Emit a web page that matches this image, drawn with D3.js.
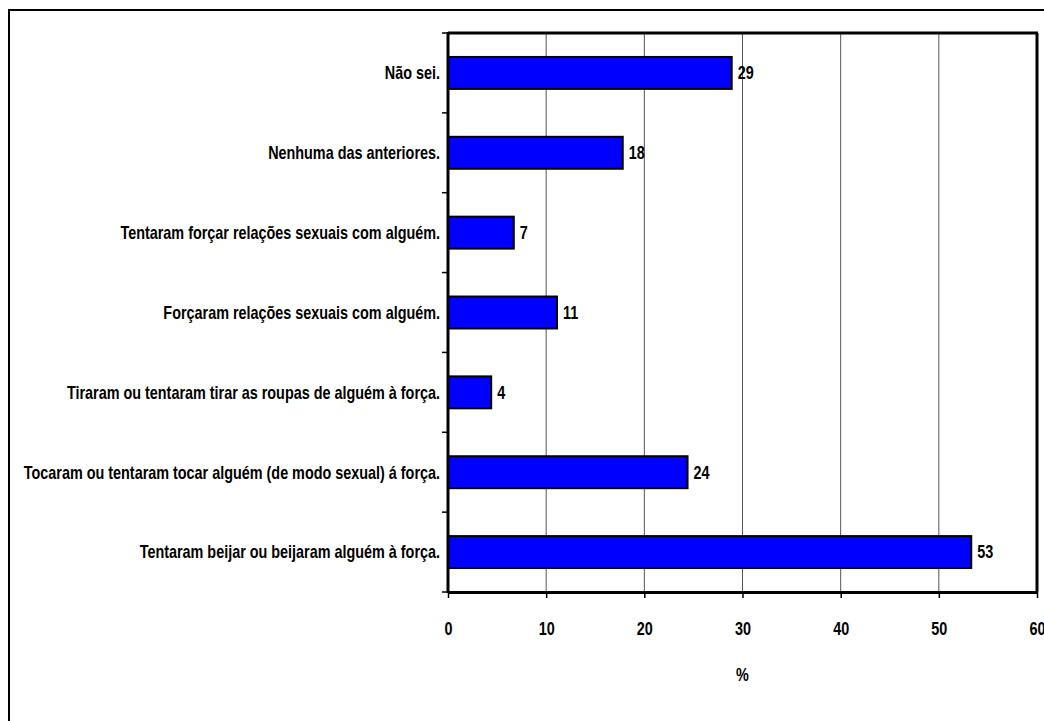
<!DOCTYPE html>
<html><head><meta charset="utf-8">
<script src="https://cdn.jsdelivr.net/npm/d3@7"></script>
<style>
html,body{margin:0;padding:0;background:#fff;}
svg text{font-family:"Liberation Sans Narrow","Arial Narrow","Liberation Sans",Arial,sans-serif;font-weight:bold;fill:#000;}
</style></head>
<body>
<svg id="c" width="1044" height="721"></svg>
<script>
const categories = [
  "Não sei.",
  "Nenhuma das anteriores.",
  "Tentaram forçar relações sexuais com alguém.",
  "Forçaram relações sexuais com alguém.",
  "Tiraram ou tentaram tirar as roupas de alguém à força.",
  "Tocaram ou tentaram tocar alguém (de modo sexual) á força.",
  "Tentaram beijar ou beijaram alguém à força."
];
const values = [28.9, 17.8, 6.7, 11.1, 4.4, 24.4, 53.3];
const xTicks = [0, 10, 20, 30, 40, 50, 60];
const xTitle = "%";

const SX = 0.8, FS = 18;
const svg = d3.select("#c");
const L = 448, R = 1037, T = 33, B = 592;

function place(sel, fx, fy) {
  sel.attr("transform", (d, i) => `translate(${fx(d, i)},${fy(d, i)}) scale(${SX},1)`)
     .attr("font-size", FS).attr("dy", "0.35em");
}

// outer frame
svg.append("rect").attr("x", 9).attr("y", 10).attr("width", 1100).attr("height", 800)
  .attr("fill", "#fff").attr("stroke", "#000").attr("stroke-width", 2);

const x = d3.scaleLinear().domain([0, 60]).range([L, R]);
const y = d3.scaleBand().domain(categories).range([T, B]).paddingInner(0.6).paddingOuter(0.3);
const yb = d3.scaleBand().domain(categories).range([T, B]);

// gridlines
svg.append("g").selectAll("line").data(xTicks.slice(1, -1)).join("line")
  .attr("x1", d => x(d)).attr("x2", d => x(d)).attr("y1", T).attr("y2", B)
  .attr("stroke", "#555").attr("stroke-width", 1);

// bars
svg.append("g").selectAll("rect").data(values).join("rect")
  .attr("x", x(0)).attr("y", (d, i) => y(categories[i]))
  .attr("width", d => x(d) - x(0)).attr("height", y.bandwidth())
  .attr("fill", "#0000ff").attr("stroke", "#000").attr("stroke-width", 2);

// value labels
svg.append("g").selectAll("text").data(values).join("text")
  .call(place, d => x(d) + 6, (d, i) => y(categories[i]) + y.bandwidth() / 2)
  .text(d => d3.format(".0f")(d));

// plot frame top/right
svg.append("line").attr("x1", L).attr("x2", R + 1).attr("y1", T).attr("y2", T).attr("stroke", "#000").attr("stroke-width", 3);
svg.append("line").attr("x1", R).attr("x2", R).attr("y1", T).attr("y2", B).attr("stroke", "#000").attr("stroke-width", 3);

// y axis
const yAxis = svg.append("g").attr("transform", `translate(${L},0)`);
yAxis.append("line").attr("x1", 0).attr("x2", 0).attr("y1", T - 1).attr("y2", B + 1).attr("stroke", "#000").attr("stroke-width", 3);
const bounds = categories.map(c => yb(c)).concat([B]);
yAxis.selectAll("line.tk").data(bounds).join("line").attr("class", "tk")
  .attr("x1", -6).attr("x2", 0).attr("y1", d => d).attr("y2", d => d).attr("stroke", "#000").attr("stroke-width", 1.5);
yAxis.selectAll("text").data(categories).join("text")
  .call(place, () => -8, d => yb(d) + yb.bandwidth() / 2)
  .attr("text-anchor", "end").text(d => d);

// x axis
const xAxis = svg.append("g").attr("transform", `translate(0,${B})`)
  .call(d3.axisBottom(x).tickValues(xTicks).tickSize(6).tickPadding(22).tickSizeOuter(0));
xAxis.select(".domain").attr("stroke", "#000").attr("stroke-width", 3);
xAxis.selectAll(".tick line").attr("stroke", "#000").attr("stroke-width", 1.5);
xAxis.selectAll(".tick text").attr("font-family", null).attr("y", null).attr("dy", "0.35em")
  .attr("font-size", FS).attr("transform", `translate(0,37) scale(${SX},1)`);

svg.append("text").attr("text-anchor", "middle").text(xTitle)
  .call(place, () => x(30), () => 675);
</script>
</body></html>
